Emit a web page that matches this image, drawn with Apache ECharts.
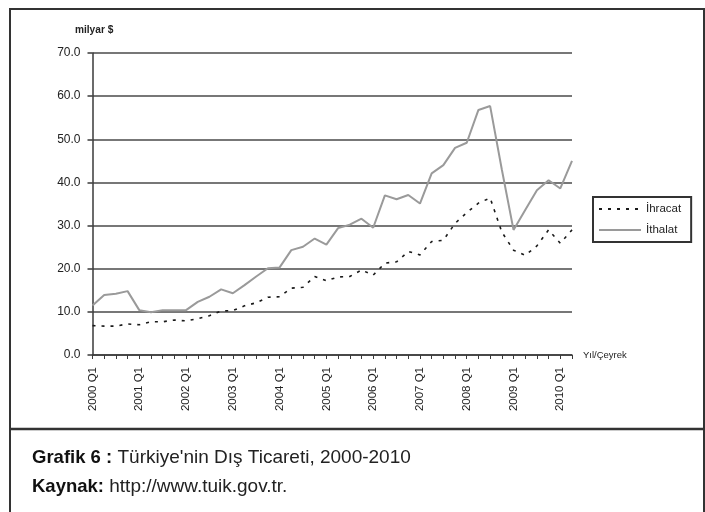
<!DOCTYPE html>
<html>
<head>
<meta charset="utf-8">
<script src="https://cdn.jsdelivr.net/npm/echarts@6/dist/echarts.min.js"></script>
<style>
html,body{margin:0;padding:0;background:#fff;}
#chart{width:705px;height:512px;}
</style>
</head>
<body>
<div id="chart"></div>
<script>
// ---- data ----
const years = ['2000','2001','2002','2003','2004','2005','2006','2007','2008','2009','2010'];
const quarters = ['Q1','Q2','Q3','Q4'];
const quarterCount = 42; // 2000 Q1 .. 2010 Q2
const yTicks = [0, 10, 20, 30, 40, 50, 60, 70];

// İhracat (exports), milyar $
const ihracat = [
  6.8, 6.7, 6.7, 7.2, 7.0, 7.7, 7.7, 8.1, 7.9, 8.4,
  9.1, 10.2, 10.3, 11.4, 12.1, 13.4, 13.5, 15.5, 15.7, 18.2,
  17.2, 18.1, 18.2, 19.7, 18.5, 21.3, 21.6, 24.0, 23.2, 26.3,
  26.6, 30.5, 33.0, 35.2, 36.4, 28.5, 24.3, 23.1, 25.3, 29.0,
  25.9, 29.0
];
// İthalat (imports), milyar $
const ithalat = [
  11.5, 13.9, 14.2, 14.8, 10.4, 9.9, 10.4, 10.4, 10.4, 12.3,
  13.5, 15.2, 14.3, 16.2, 18.2, 20.1, 20.3, 24.3, 25.1, 27.0,
  25.6, 29.4, 30.2, 31.6, 29.5, 37.0, 36.1, 37.1, 35.1, 42.1,
  44.0, 48.0, 49.2, 56.8, 57.7, 43.0, 29.0, 33.6, 38.2, 40.5,
  38.6, 45.0
];

const categories = [];
years.forEach(y => quarters.forEach(q => categories.push(y + ' ' + q)));
categories.length = quarterCount;

const chart = echarts.init(document.getElementById('chart'), null, {renderer: 'canvas'});
const axisCol = '#3a3a3a';
const sans = "'Liberation Sans', Arial, sans-serif";

chart.setOption({
  animation: false,
  backgroundColor: '#fff',
  textStyle: {fontFamily: sans},
  grid: {left: 92.5, right: 133, top: 53, bottom: 157, containLabel: false},
  legend: {
    orient: 'vertical',
    left: 593, top: 197,
    padding: [6, 10, 6, 5],
    itemGap: 9,
    itemWidth: 42, itemHeight: 10,
    borderColor: '#333', borderWidth: 2,
    itemStyle: {opacity: 0},
    textStyle: {fontSize: 11.5, color: '#222'},
    data: ['İhracat', 'İthalat']
  },
  xAxis: {
    type: 'category',
    data: categories,
    boundaryGap: false,
    name: 'Yıl/Çeyrek',
    nameLocation: 'end',
    nameGap: 11,
    nameTextStyle: {fontSize: 9.5, color: '#222'},
    axisLine: {lineStyle: {color: axisCol, width: 1.5}},
    axisTick: {show: true, interval: 0, length: 4, lineStyle: {color: axisCol, width: 1}},
    axisLabel: {
      interval: function (i) { return i % 4 === 0; },
      rotate: 90, fontSize: 11.5, color: '#222', margin: 12
    },
    splitLine: {show: false}
  },
  yAxis: {
    type: 'value',
    min: yTicks[0], max: yTicks[yTicks.length - 1], interval: 10,
    axisLine: {show: true, lineStyle: {color: axisCol, width: 1.5}},
    axisTick: {show: true, length: 5, lineStyle: {color: axisCol, width: 1.5}},
    axisLabel: {fontSize: 12, color: '#222', margin: 12, formatter: v => v.toFixed(1)},
    splitLine: {lineStyle: {color: '#4a4a4a', width: 1.5}}
  },
  series: [
    {
      name: 'İhracat', type: 'line', data: ihracat,
      symbol: 'none', smooth: false,
      lineStyle: {color: '#1a1a1a', width: 1.6, type: [3, 6]},
      itemStyle: {color: '#1a1a1a'}, z: 3
    },
    {
      name: 'İthalat', type: 'line', data: ithalat,
      symbol: 'none', smooth: false,
      lineStyle: {color: '#9a9a9a', width: 2},
      itemStyle: {color: '#9a9a9a'}, z: 2
    }
  ],
  graphic: [
    {type: 'rect', shape: {x: 10, y: 9, width: 694, height: 520},
     style: {fill: 'none', stroke: '#333', lineWidth: 2}, silent: true},
    {type: 'line', shape: {x1: 10, y1: 429, x2: 704, y2: 429},
     style: {stroke: '#333', lineWidth: 2.5}, silent: true},
    {type: 'text', x: 75, y: 24, scaleX: 0.92,
     style: {text: 'milyar $', fontSize: 11, fill: '#222', fontFamily: sans, fontWeight: 'bold'}},
    {type: 'text', x: 32, y: 448,
     style: {
       text: '{b|Grafik 6 :} Türkiye\'nin Dış Ticareti, 2000-2010',
       fontSize: 19, fill: '#222', fontFamily: sans,
       rich: {b: {fontWeight: 'bold', fontSize: 18.5, fontFamily: sans, fill: '#111'}}
     }},
    {type: 'text', x: 32, y: 477,
     style: {
       text: '{b|Kaynak:} http://www.tuik.gov.tr.',
       fontSize: 19, fill: '#222', fontFamily: sans,
       rich: {b: {fontWeight: 'bold', fontSize: 18.5, fontFamily: sans, fill: '#111'}}
     }}
  ]
});
</script>
</body>
</html>
